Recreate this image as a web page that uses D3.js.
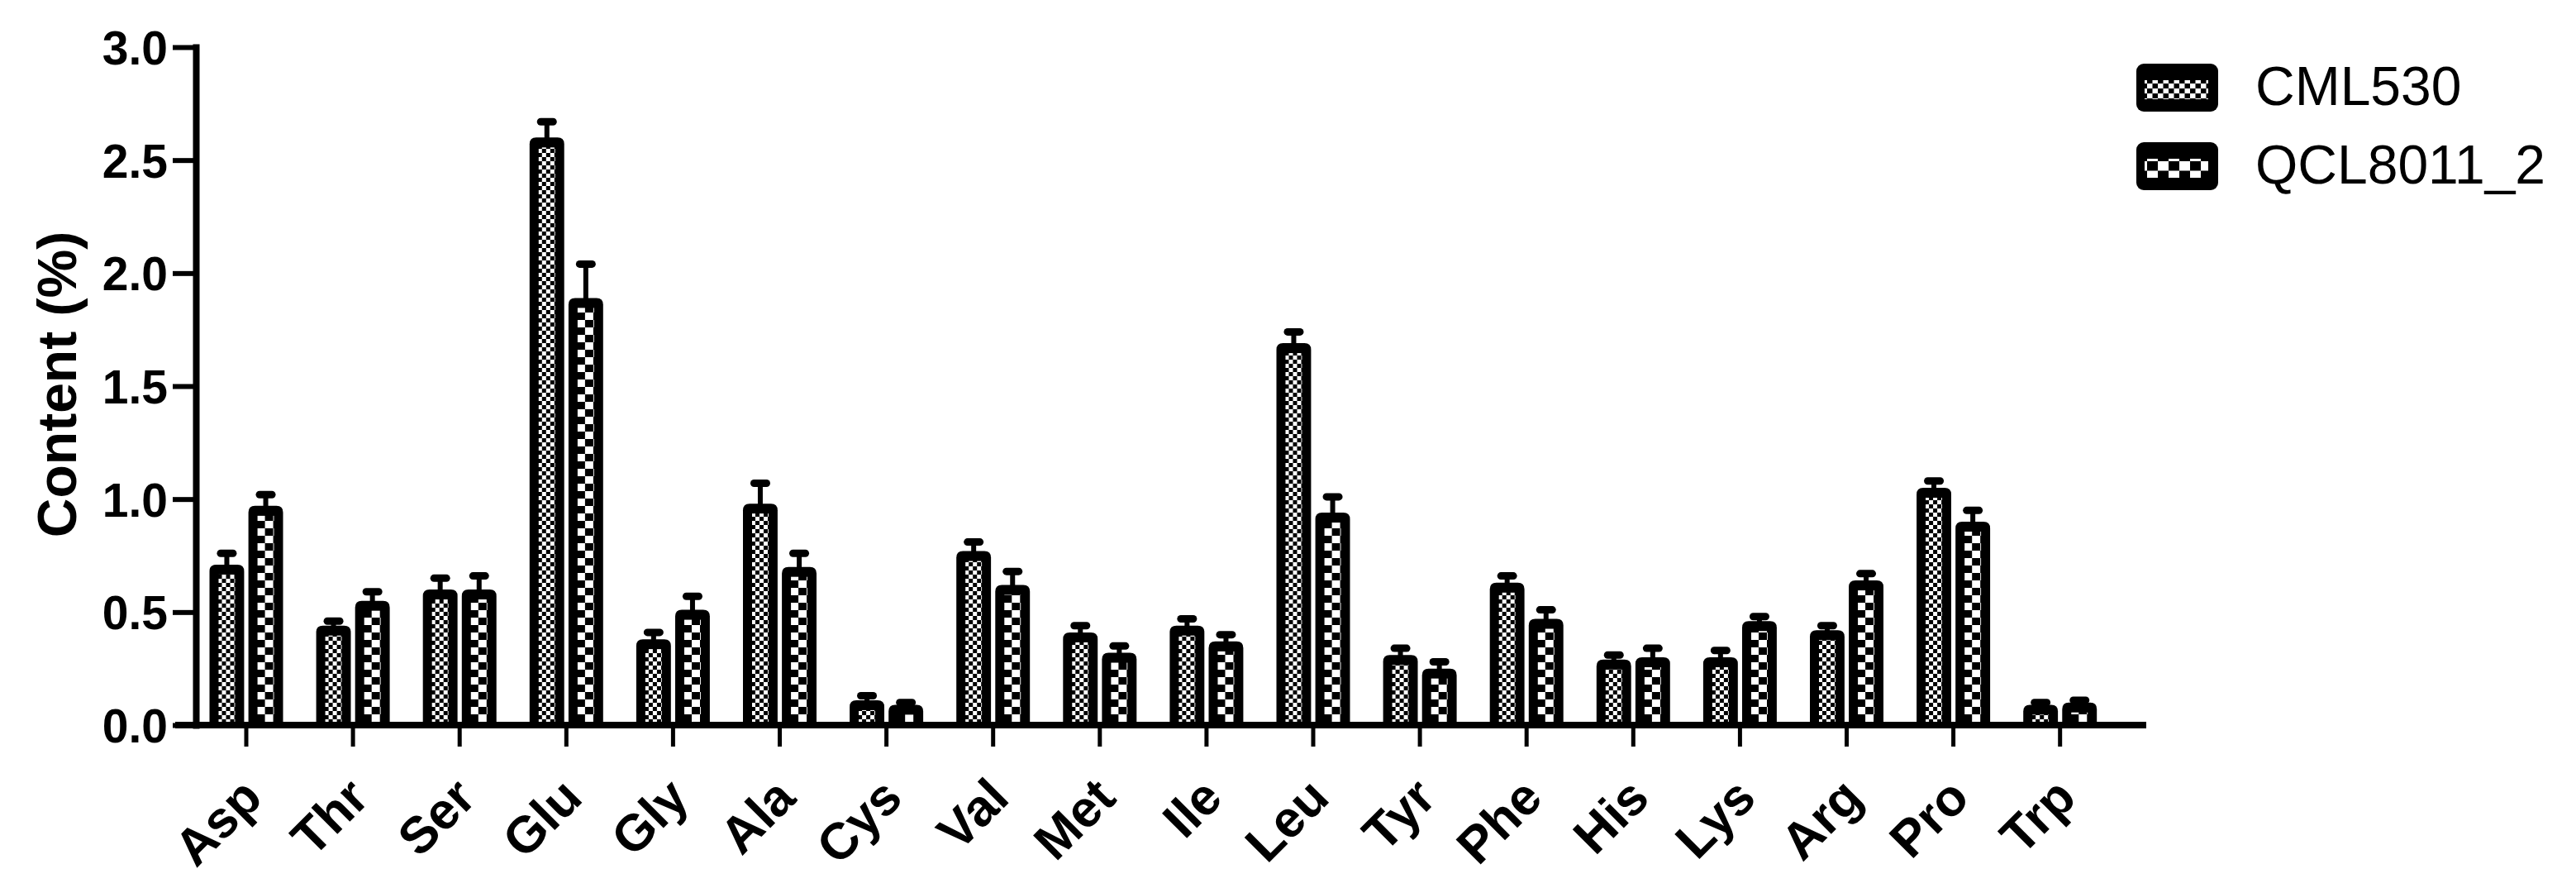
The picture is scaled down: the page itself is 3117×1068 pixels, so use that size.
<!DOCTYPE html>
<html>
<head>
<meta charset="utf-8">
<script src="https://cdn.jsdelivr.net/npm/d3@7"></script>
<style>
    body { margin: 0; background: #fff; }
    text { font-family: Arial, "Liberation Sans", sans-serif; fill: #000; }
</style>
</head>
<body>
<div id="chart"></div>
<script>
var categories = ['Asp', 'Thr', 'Ser', 'Glu', 'Gly', 'Ala', 'Cys', 'Val', 'Met', 'Ile', 'Leu', 'Tyr', 'Phe', 'His', 'Lys', 'Arg', 'Pro', 'Trp'];
var series = ['CML530', 'QCL8011_2'];
var cml530 = [0.71, 0.44, 0.60, 2.60, 0.38, 0.98, 0.11, 0.77, 0.41, 0.44, 1.69, 0.31, 0.63, 0.29, 0.30, 0.42, 1.05, 0.09];
var cml530Err = [0.05, 0.02, 0.05, 0.07, 0.03, 0.09, 0.02, 0.04, 0.03, 0.03, 0.05, 0.03, 0.03, 0.02, 0.03, 0.02, 0.03, 0.01];
var qcl8011 = [0.97, 0.55, 0.60, 1.89, 0.51, 0.70, 0.09, 0.62, 0.32, 0.37, 0.94, 0.25, 0.47, 0.30, 0.46, 0.64, 0.90, 0.10];
var qcl8011Err = [0.05, 0.04, 0.06, 0.15, 0.06, 0.06, 0.01, 0.06, 0.03, 0.03, 0.07, 0.03, 0.04, 0.04, 0.02, 0.03, 0.05, 0.01];
var yTicks = [0, 0.5, 1.0, 1.5, 2.0, 2.5, 3.0];

var width = 3117, height = 1068;

var svg = d3.select('#chart')
    .append('svg')
    .attr('width', width)
    .attr('height', height);

svg.append('rect').attr('width', width).attr('height', height).attr('fill', '#fff');

// checker patterns used inside the bars
var defs = svg.append('defs');
function checker(id, w, h){
    var p = defs.append('pattern')
        .attr('id', id)
        .attr('patternUnits', 'userSpaceOnUse')
        .attr('width', w * 2)
        .attr('height', h * 2);
    p.append('rect').attr('width', w * 2).attr('height', h * 2).attr('fill', '#fff');
    p.append('rect').attr('x', w).attr('y', 0).attr('width', w).attr('height', h).attr('fill', '#000');
    p.append('rect').attr('x', 0).attr('y', h).attr('width', w).attr('height', h).attr('fill', '#000');
}
checker('fine', 5, 5);
checker('coarse', 10, 9);
checker('fineLeg', 6.5, 6);
checker('coarseLeg', 13, 11.5);
var fills = {'CML530': 'url(#fine)', 'QCL8011_2': 'url(#coarse)'};
var legFills = {'CML530': 'url(#fineLeg)', 'QCL8011_2': 'url(#coarseLeg)'};

var step = 129.1;
var x0 = d3.scaleBand()
    .domain(categories)
    .range([298 - step / 2, 298 + step * (categories.length - 0.5)])
    .padding(0);

var x1 = d3.scaleBand()
    .domain(series)
    .range([-44.5, 44.5])
    .paddingInner(0.11);

var y = d3.scaleLinear()
    .domain([0, 3])
    .range([877, 57]);

var rows = categories.map(function(c, i){
    return {
        cat: c,
        bars: [
            {s: 'CML530', v: cml530[i], e: cml530Err[i]},
            {s: 'QCL8011_2', v: qcl8011[i], e: qcl8011Err[i]}
        ]
    };
});

function topRounded(w, h, r){
    r = Math.min(r, h, w / 2);
    return 'M0,' + h + 'V' + r + 'Q0,0 ' + r + ',0H' + (w - r) + 'Q' + w + ',0 ' + w + ',' + r + 'V' + h + 'Z';
}

var groups = svg.selectAll('g.cat')
    .data(rows)
    .enter()
    .append('g')
    .attr('class', 'cat')
    .attr('transform', function(d){ return 'translate(' + (x0(d.cat) + x0.bandwidth() / 2) + ',0)'; });

var bars = groups.selectAll('g.bar')
    .data(function(d){ return d.bars; })
    .enter()
    .append('g')
    .attr('class', 'bar')
    .attr('transform', function(d){ return 'translate(' + x1(d.s) + ',0)'; });

var bw = x1.bandwidth();
var inset = 11;

// error bar (upper only, lower is hidden by the black bar)
bars.append('rect')
    .attr('x', bw / 2 - 3)
    .attr('y', function(d){ return y(d.v + d.e); })
    .attr('width', 6)
    .attr('height', function(d){ return y(d.v) - y(d.v + d.e) + 4; })
    .attr('fill', '#000');

bars.append('rect')
    .attr('x', bw / 2 - 12)
    .attr('y', function(d){ return y(d.v + d.e) - 4.5; })
    .attr('width', 24)
    .attr('height', 9)
    .attr('rx', 4.5)
    .attr('fill', '#000');

bars.append('path')
    .attr('transform', function(d){ return 'translate(0,' + y(d.v) + ')'; })
    .attr('d', function(d){ return topRounded(bw, y(0) - y(d.v), 8); })
    .attr('fill', '#000');

bars.append('rect')
    .attr('x', inset)
    .attr('y', function(d){ return y(d.v) + inset + 1; })
    .attr('width', bw - inset * 2)
    .attr('height', function(d){ return Math.max(0, y(0) - y(d.v) - inset - 1); })
    .attr('fill', function(d){ return fills[d.s]; });

// y axis
var yAxis = svg.append('g')
    .attr('transform', 'translate(237,0)')
    .call(d3.axisLeft(y).tickValues(yTicks).tickSize(28).tickSizeOuter(0).tickFormat(d3.format('.1f')));
yAxis.select('.domain').attr('stroke-width', 8).attr('stroke-linecap', 'square');
yAxis.selectAll('.tick line').attr('stroke-width', 6);
yAxis.selectAll('.tick text')
    .attr('x', -34)
    .attr('dy', '0.36em')
    .style('font-size', '57px')
    .style('font-weight', 'bold');

// x axis
var xAxis = svg.append('g')
    .attr('transform', 'translate(0,' + y(0) + ')')
    .call(d3.axisBottom(x0).tickSize(26).tickSizeOuter(0));
xAxis.select('.domain').remove();
xAxis.append('line')
    .attr('x1', 212)
    .attr('x2', 2597)
    .attr('stroke', '#000')
    .attr('stroke-width', 8);
xAxis.selectAll('.tick line').attr('stroke-width', 5);
xAxis.selectAll('.tick text')
    .attr('y', 0)
    .attr('dy', 0)
    .attr('text-anchor', 'end')
    .attr('transform', 'translate(22,91) rotate(-45)')
    .style('font-size', '62px')
    .style('font-weight', 'bold');

svg.append('text')
    .attr('transform', 'translate(92,465) rotate(-90)')
    .attr('text-anchor', 'middle')
    .style('font-size', '66px')
    .style('font-weight', 'bold')
    .text('Content (%)');

// legend
var legend = svg.selectAll('g.legend')
    .data(series)
    .enter()
    .append('g')
    .attr('class', 'legend')
    .attr('transform', function(d, i){ return 'translate(2585,' + (77 + i * 95) + ')'; });

legend.append('rect')
    .attr('width', 99)
    .attr('height', 58)
    .attr('rx', 9)
    .attr('fill', '#000');

legend.append('rect')
    .attr('x', 10)
    .attr('y', 20)
    .attr('width', 77)
    .attr('height', 23)
    .attr('fill', function(d){ return legFills[d]; });

legend.append('text')
    .attr('x', 144)
    .attr('y', 50)
    .style('font-size', '66px')
    .text(function(d){ return d; });
</script>
</body>
</html>
